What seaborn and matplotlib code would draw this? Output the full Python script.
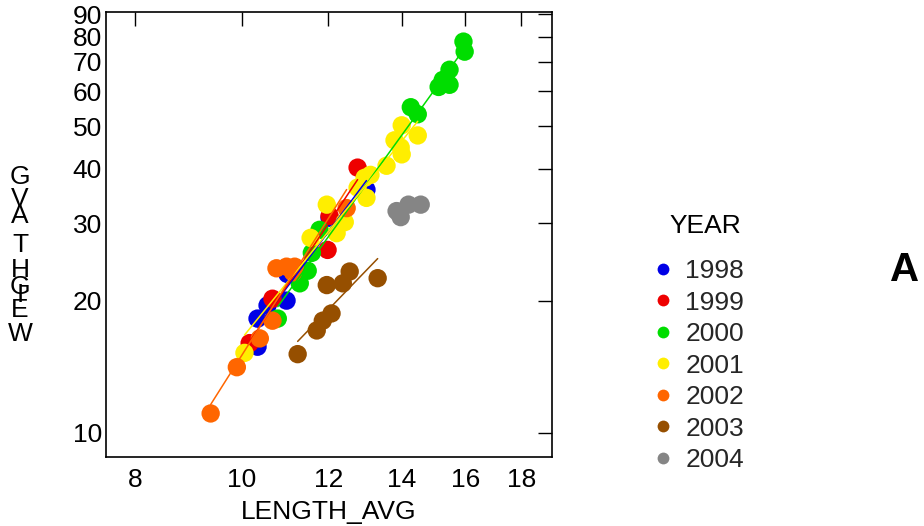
import numpy as np
import pandas as pd
import matplotlib
matplotlib.use("Agg")
import matplotlib.pyplot as plt
from matplotlib.ticker import FixedLocator, FixedFormatter, NullLocator
import seaborn as sns

sns.set_theme(style="white")
plt.rcParams["font.family"] = ["Liberation Sans", "DejaVu Sans"]

# Mean length / mean weight per sample, grouped by year
years = ["1998", "1999", "2000", "2001", "2002", "2003", "2004"]

len_1998 = [10.34, 10.56, 10.99, 10.34, 12.03, 13.0, 11.01]
wt_1998 = [18.2, 19.5, 20.0, 15.7, 30.9, 35.8, 23.0]

len_1999 = [12.76, 11.98, 12.03, 10.67, 10.17]
wt_1999 = [40.2, 26.1, 31.2, 20.2, 16.0]

len_2000 = [15.94, 15.98, 15.48, 15.26, 15.13, 15.48, 14.27, 14.48,
            11.78, 11.59, 11.49, 11.30, 10.79]
wt_2000 = [77.9, 73.9, 67.2, 63.7, 61.4, 62.1, 55.2, 53.2,
           29.0, 25.7, 23.4, 21.9, 18.2]

len_2001 = [14.0, 14.48, 13.79, 13.97, 14.0, 13.56, 13.11, 12.95, 12.76,
            13.0, 11.96, 12.42, 12.21, 11.56, 10.06]
wt_2001 = [50.2, 47.6, 46.4, 44.7, 43.1, 40.6, 38.7, 38.1, 36.2,
           34.3, 33.1, 30.2, 28.5, 27.8, 15.2]

len_2002 = [9.37, 9.90, 10.39, 10.67, 10.76, 10.99, 11.18, 11.14, 12.47]
wt_2002 = [11.06, 14.1, 16.4, 18.0, 23.7, 23.9, 23.9, 23.2, 32.5]

len_2003 = [11.25, 11.71, 11.86, 12.08, 11.96, 12.37, 12.55, 13.31]
wt_2003 = [15.1, 17.1, 18.0, 18.7, 21.7, 21.9, 23.3, 22.5]

len_2004 = [13.85, 13.97, 14.20, 14.57]
wt_2004 = [32.0, 31.0, 33.1, 33.1]

lengths = [len_1998, len_1999, len_2000, len_2001, len_2002, len_2003, len_2004]
weights = [wt_1998, wt_1999, wt_2000, wt_2001, wt_2002, wt_2003, wt_2004]

x_ticks = [8, 10, 12, 14, 16, 18]
y_ticks = [10, 20, 30, 40, 50, 60, 70, 80, 90]

colors = {
    "1998": "#0000E6",
    "1999": "#EE0000",
    "2000": "#00DD00",
    "2001": "#FFEE00",
    "2002": "#FF6600",
    "2003": "#964F00",
    "2004": "#858585",
}

FS = 19

df = pd.DataFrame({
    "YEAR": np.concatenate([[y] * len(l) for y, l in zip(years, lengths)]),
    "LENGTH_AVG": np.concatenate(lengths),
    "WEIGHT_AVG": np.concatenate(weights),
})

fig = plt.figure(figsize=(9.24, 5.26), dpi=100)
ax = fig.add_axes([106 / 924, 1 - 457 / 526, 446 / 924, 445 / 526])

sns.scatterplot(data=df, x="LENGTH_AVG", y="WEIGHT_AVG", hue="YEAR",
                hue_order=years, palette=colors, s=175, edgecolor="none",
                linewidth=0, alpha=1, ax=ax, zorder=2)

ax.set_xscale("log")
ax.set_yscale("log")

# log-log least-squares line for each year over its length range
for y in years:
    sub = df[df["YEAR"] == y]
    lx = np.log(sub["LENGTH_AVG"].values)
    ly = np.log(sub["WEIGHT_AVG"].values)
    b, a = np.polyfit(lx, ly, 1)
    xs = np.linspace(lx.min(), lx.max(), 20)
    ax.plot(np.exp(xs), np.exp(a + b * xs), color=colors[y], lw=1.1, zorder=3)

ax.set_xlim(7.52, 19.2)
ax.set_ylim(8.8, 91)

ax.xaxis.set_major_locator(FixedLocator(x_ticks))
ax.xaxis.set_major_formatter(FixedFormatter([str(t) for t in x_ticks]))
ax.xaxis.set_minor_locator(NullLocator())
ax.yaxis.set_major_locator(FixedLocator(y_ticks))
ax.yaxis.set_major_formatter(FixedFormatter([str(t) for t in y_ticks]))
ax.yaxis.set_minor_locator(NullLocator())

ax.tick_params(axis="both", which="major", direction="in", length=10,
               width=1.0, color="black", labelsize=FS, labelcolor="black",
               top=True, right=True)
ax.tick_params(axis="x", pad=8)
ax.tick_params(axis="y", pad=3)
for sp in ax.spines.values():
    sp.set_color("black")
    sp.set_linewidth(1.2)
    sp.set_visible(True)

ax.set_xlabel("LENGTH_AVG", fontsize=FS, color="black", labelpad=6)
ax.set_ylabel("")

# stacked y-axis caption, one letter at a time from the bottom
for ch, yc in [("W", 334), ("E", 310), ("I", 295), ("G", 287), ("H", 270),
               ("T", 245), ("A", 216), ("V", 199), ("G", 177)]:
    fig.text(20 / 924, 1 - yc / 526, ch, ha="center", va="center",
             fontsize=FS, color="black")

leg = ax.get_legend()
if leg is not None:
    leg.remove()
handles = [plt.Line2D([], [], ls="none", marker="o", markersize=8.5,
                      markerfacecolor=colors[y], markeredgecolor="none")
           for y in years]
fig.text(705 / 924, 1 - 226 / 526, "YEAR", ha="center", va="center",
         fontsize=FS, color="black")
fig.legend(handles, years, loc="upper left",
           bbox_to_anchor=(655 / 924, 1 - 259 / 526), frameon=False,
           fontsize=FS, handlelength=0.6, handletextpad=0.55,
           labelspacing=0.285, borderpad=0, borderaxespad=0)

fig.text(905 / 924, 1 - 270 / 526, "A", ha="center", va="center",
         fontsize=29, fontweight="bold", color="black")

fig.savefig("out.png", dpi=100, facecolor="white")
